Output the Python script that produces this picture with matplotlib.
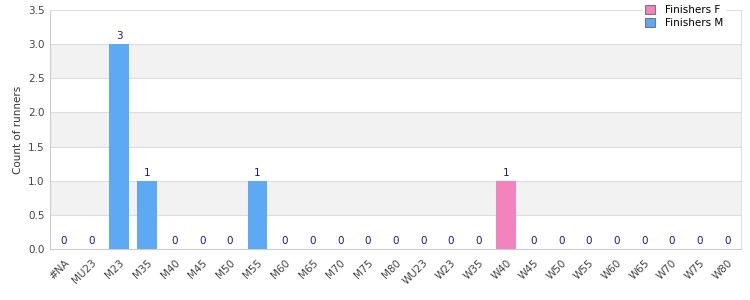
import matplotlib
matplotlib.use("Agg")
from matplotlib import pyplot as plt
import numpy as np

categories = ["#NA", "MU23", "M23", "M35", "M40", "M45", "M50", "M55", "M60",
              "M65", "M70", "M75", "M80", "WU23", "W23", "W35", "W40", "W45",
              "W50", "W55", "W60", "W65", "W70", "W75", "W80"]
finishers_f = [0, 0, 0, 0, 0, 0, 0, 0, 0, 0, 0, 0, 0, 0, 0, 0, 1, 0, 0, 0, 0, 0, 0, 0, 0]
finishers_m = [0, 0, 3, 1, 0, 0, 0, 1, 0, 0, 0, 0, 0, 0, 0, 0, 0, 0, 0, 0, 0, 0, 0, 0, 0]

col_f = "#f383bc"
col_m = "#5ea9f4"
grid_col = "#dddddd"

fig = plt.figure(figsize=(7.5, 3), dpi=100)
ax = fig.add_axes([0.067, 0.17, 0.921, 0.797])

x = np.arange(len(categories))
f = np.array(finishers_f)
m = np.array(finishers_m)

# alternating bands
for i, lo in enumerate(np.arange(0, 3.5, 0.5)):
    if i % 2 == 1:
        ax.axhspan(lo, lo + 0.5, color="#f2f2f2", zorder=0, lw=0)
for yv in np.arange(0.5, 3.5, 0.5):
    ax.axhline(yv, color=grid_col, lw=0.8, zorder=0.5)

ax.bar(x, f, width=0.72, color=col_f, label="Finishers F", zorder=2)
ax.bar(x, m, width=0.72, bottom=f, color=col_m, label="Finishers M", zorder=2)

tot = f + m
for xi, t in zip(x, tot):
    ax.text(xi, t + 0.04, str(t), ha="center", va="bottom", fontsize=7.5,
            color="#1a1a8c", zorder=3)

ax.set_xlim(-0.5, len(categories) - 0.5)
ax.set_ylim(0, 3.5)
ax.set_yticks(np.arange(0, 3.51, 0.5))
ax.set_yticklabels(["%.1f" % v for v in np.arange(0, 3.51, 0.5)])
ax.set_xticks(x)
ax.set_xticklabels(categories, rotation=45, ha="right", rotation_mode="anchor")
ax.tick_params(axis="both", length=0, labelsize=7.5, colors="#444444", pad=4)
ax.tick_params(axis="x", pad=6)
ax.set_ylabel("Count of runners", fontsize=7.5, color="#333333")

for s in ax.spines.values():
    s.set_color("#cccccc")
    s.set_linewidth(0.8)
ax.spines["top"].set_color("#e0e0e0")
ax.spines["right"].set_color("#e0e0e0")

leg = ax.legend(loc="upper right", bbox_to_anchor=(0.985, 1.05), fontsize=7.5,
                frameon=True, fancybox=False, framealpha=1, edgecolor="white",
                handlelength=0.9, handleheight=0.9, borderpad=0.2,
                labelspacing=0.3, handletextpad=1.0)
for h in leg.legend_handles:
    h.set_edgecolor("#777777")
    h.set_linewidth(0.8)
leg.set_zorder(5)

fig.savefig("out.png", dpi=100)
